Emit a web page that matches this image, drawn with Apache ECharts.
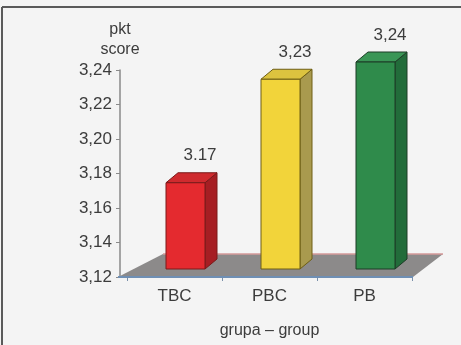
<!DOCTYPE html>
<html>
<head>
<meta charset="utf-8">
<script src="https://cdn.jsdelivr.net/npm/echarts@6/dist/echarts.min.js"></script>
<style>
  html, body { margin: 0; padding: 0; background: #f4f4f4; }
  #chart { width: 461px; height: 345px; }
</style>
</head>
<body>
<div id="chart"></div>
<script>
// Groups and mean scores
const categories = ['TBC', 'PBC', 'PB'];
const scores = [3.17, 3.23, 3.24];
const scoreLabels = ['3.17', '3,23', '3,24'];
const yTicks = { min: 3.12, max: 3.24, step: 0.02 };

// Face colours per bar: front, side, top, outline
const faceColors = [
  ['#e42a2f', '#a61e23', '#cf2a2e', '#7a1a1a'],
  ['#f2d43a', '#a99a4e', '#dcc33f', '#6e5e14'],
  ['#2f8b4b', '#226c3a', '#3a9656', '#1d3d26']
];

const chart = echarts.init(document.getElementById('chart'));
const FONT = 'Liberation Sans';
const TXT = '#3c3c3c';

chart.setOption({
  backgroundColor: '#f4f4f4',
  animation: false,
  graphic: [
    { type: 'line', shape: { x1: 2, y1: 7, x2: 461, y2: 7 }, style: { stroke: '#5a5a5a', lineWidth: 2 } },
    { type: 'line', shape: { x1: 2, y1: 7, x2: 2, y2: 345 }, style: { stroke: '#5a5a5a', lineWidth: 2 } }
  ],
  grid: { left: 127, right: 49, top: 70, bottom: 68 },
  xAxis: {
    type: 'category',
    data: categories,
    name: 'grupa – group',
    nameLocation: 'middle',
    nameGap: 46,
    nameTextStyle: { fontFamily: FONT, fontSize: 16, color: TXT },
    axisLine: { show: false },
    axisTick: { show: true, length: 4, lineStyle: { color: '#7a90aa' } },
    axisLabel: { fontFamily: FONT, fontSize: 17, color: TXT, margin: 11 }
  },
  yAxis: {
    type: 'value',
    min: yTicks.min,
    max: yTicks.max,
    interval: yTicks.step,
    offset: 7,
    name: 'pkt\nscore',
    nameLocation: 'end',
    nameGap: 10,
    nameTextStyle: { fontFamily: FONT, fontSize: 16, color: TXT, lineHeight: 20, align: 'center' },
    splitLine: { show: false },
    axisLine: { show: true, lineStyle: { color: '#8a8a8a', width: 1.5 } },
    axisTick: { show: true, length: 4, lineStyle: { color: '#8a8a8a' } },
    axisLabel: {
      fontFamily: FONT, fontSize: 17, color: TXT, margin: 8,
      formatter: v => v.toFixed(2).replace('.', ',')
    }
  },
  series: [
    {
      // floor of the 3D plot area
      type: 'custom',
      z: 1,
      data: [[0, yTicks.min]],
      renderItem: (params, api) => {
        const cs = params.coordSys;
        const y0 = cs.y + cs.height;
        const xl = cs.x - 9, xr = cs.x + cs.width + 1;
        const yb = y0 - 23;
        return {
          type: 'group',
          children: [
            { type: 'polygon', shape: { points: [[xl, y0], [xl + 45, yb], [xr + 30, yb], [xr, y0]] },
              style: { fill: '#8c8a8a' } },
            { type: 'line', shape: { x1: xl + 45, y1: yb, x2: xr + 30, y2: yb },
              style: { stroke: '#d49a9a', lineWidth: 1.5 } },
            { type: 'line', shape: { x1: xl, y1: y0, x2: xr, y2: y0 },
              style: { stroke: '#6f8fb4', lineWidth: 2 } }
          ]
        };
      }
    },
    {
      // 3D columns
      type: 'custom',
      z: 3,
      data: scores.map((v, i) => [i, v]),
      renderItem: (params, api) => {
        const i = api.value(0);
        const v = api.value(1);
        const top = api.coord([i, v]);
        const base = api.coord([i, yTicks.min]);
        const c = faceColors[i];
        const x0 = top[0] - 8.5, x1 = top[0] + 30.5;
        const ft = top[1] - 8, fb = base[1] - 8;
        const dx = 12, dy = -10;
        return {
          type: 'group',
          children: [
            { type: 'polygon', shape: { points: [[x1, ft], [x1 + dx, ft + dy], [x1 + dx, fb + dy], [x1, fb]] },
              style: { fill: c[1], stroke: c[3], lineWidth: 1 } },
            { type: 'polygon', shape: { points: [[x0, ft], [x0 + dx, ft + dy], [x1 + dx, ft + dy], [x1, ft]] },
              style: { fill: c[2], stroke: c[3], lineWidth: 1 } },
            { type: 'rect', shape: { x: x0, y: ft, width: x1 - x0, height: fb - ft },
              style: { fill: c[0], stroke: c[3], lineWidth: 1 } },
            { type: 'text', x: top[0] + 25.5, y: top[1] - 35,
              style: { text: scoreLabels[i], fontFamily: FONT, fontSize: 17, fill: TXT,
                       align: 'center', verticalAlign: 'middle' } }
          ]
        };
      }
    }
  ]
});
</script>
</body>
</html>
